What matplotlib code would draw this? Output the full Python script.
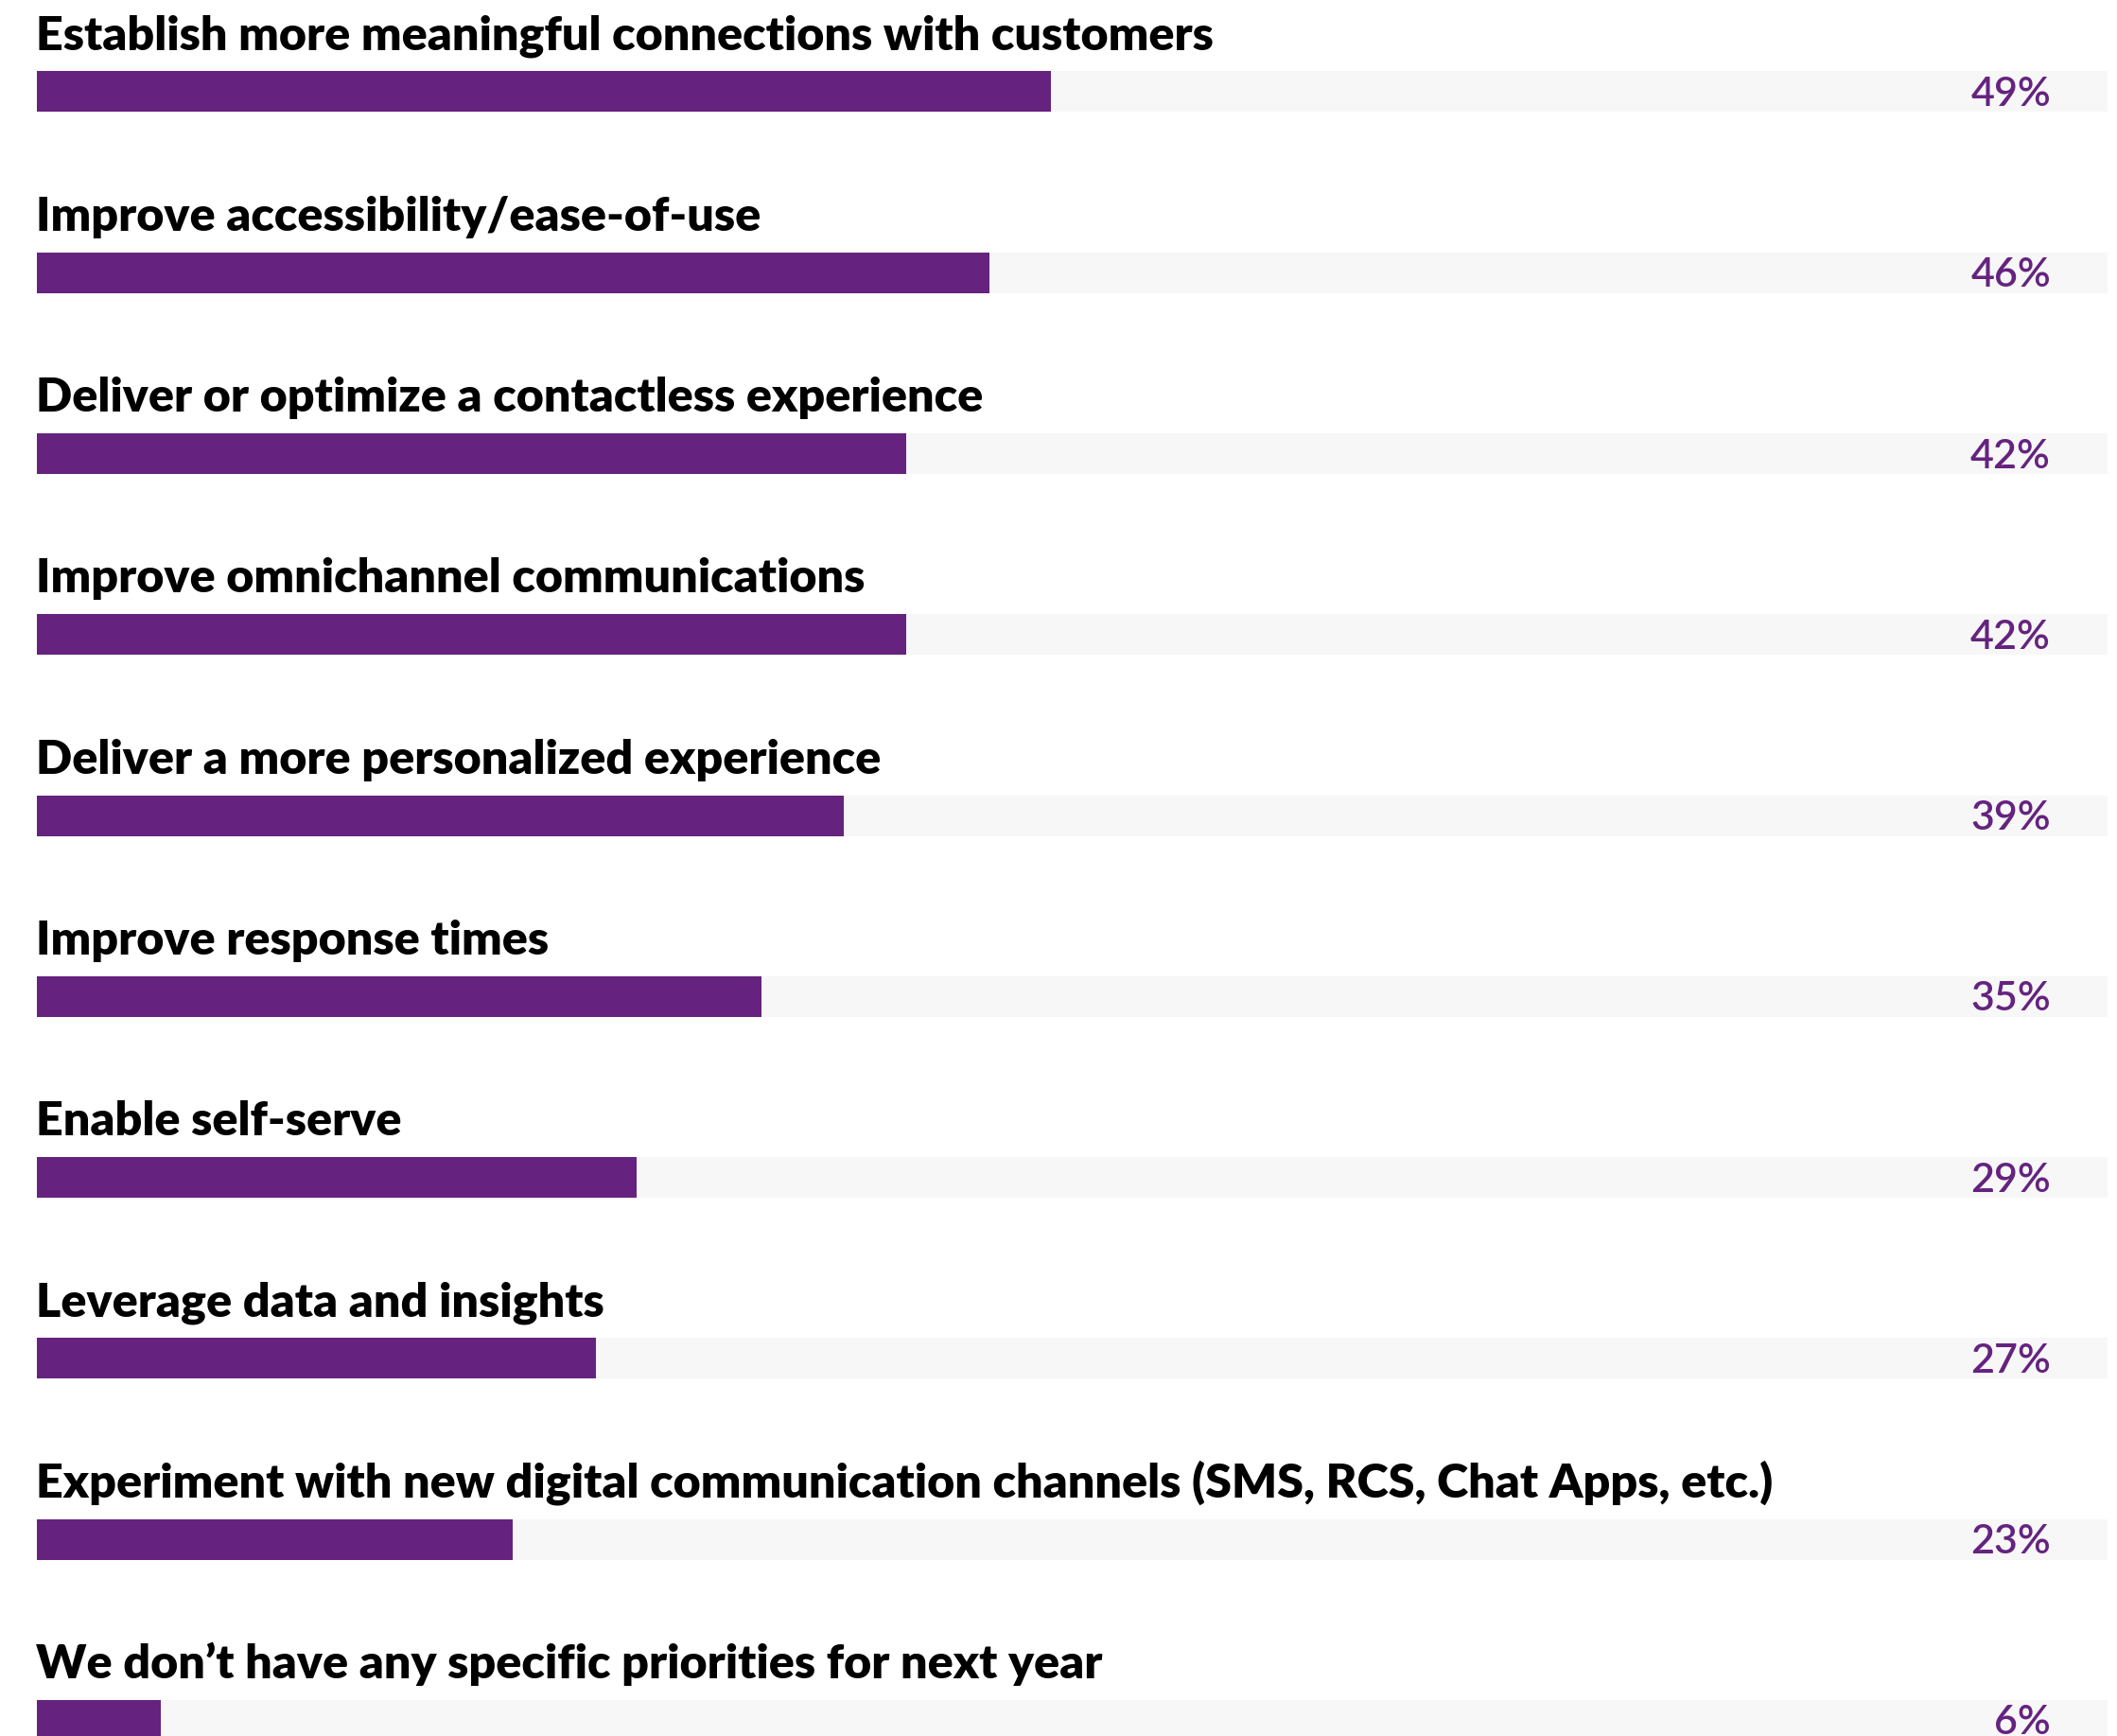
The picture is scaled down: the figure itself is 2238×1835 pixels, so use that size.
import matplotlib.pyplot as plt

# Survey responses: top priorities for next year (% of respondents)
labels = [
    "Establish more meaningful connections with customers",
    "Improve accessibility/ease-of-use",
    "Deliver or optimize a contactless experience",
    "Improve omnichannel communications",
    "Deliver a more personalized experience",
    "Improve response times",
    "Enable self-serve",
    "Leverage data and insights",
    "Experiment with new digital communication channels (SMS, RCS, Chat Apps, etc.)",
    "We don\u2019t have any specific priorities for next year",
]
values = [49, 46, 42, 42, 39, 35, 29, 27, 23, 6]

PURPLE = "#65237f"
TRACK = "#f7f7f7"

W, H, DPI = 2238, 1835, 100
fig = plt.figure(figsize=(W / DPI, H / DPI), dpi=DPI)

left_px, right_px = 38.5, 2228.0
pitch = 191.26
first_center = 97.0
bar_h = 43.0 / pitch

ax = fig.add_axes([left_px / W, 0, (right_px - left_px) / W, 1])
ax.set_xlim(0, 100)
ax.set_ylim((H - first_center) / pitch, -first_center / pitch)
ax.axis("off")

ypos = list(range(len(labels)))
ax.barh(ypos, [100] * len(values), height=bar_h, color=TRACK, lw=0)
ax.barh(ypos, values, height=bar_h, color=PURPLE, lw=0)

label_gap = 23.0 / pitch
for y, lab, v in zip(ypos, labels, values):
    ax.text(0, y - bar_h / 2 - label_gap, lab, ha="left", va="baseline",
            fontsize=36.2, fontweight="heavy", family="Lato", color="black",
            clip_on=False)
    ax.text(97.26, y + 3.0 / pitch, f"{v}%", ha="right", va="center",
            fontsize=31, family="Lato", fontweight="semibold", color=PURPLE)

fig.savefig("out.png", dpi=DPI)
